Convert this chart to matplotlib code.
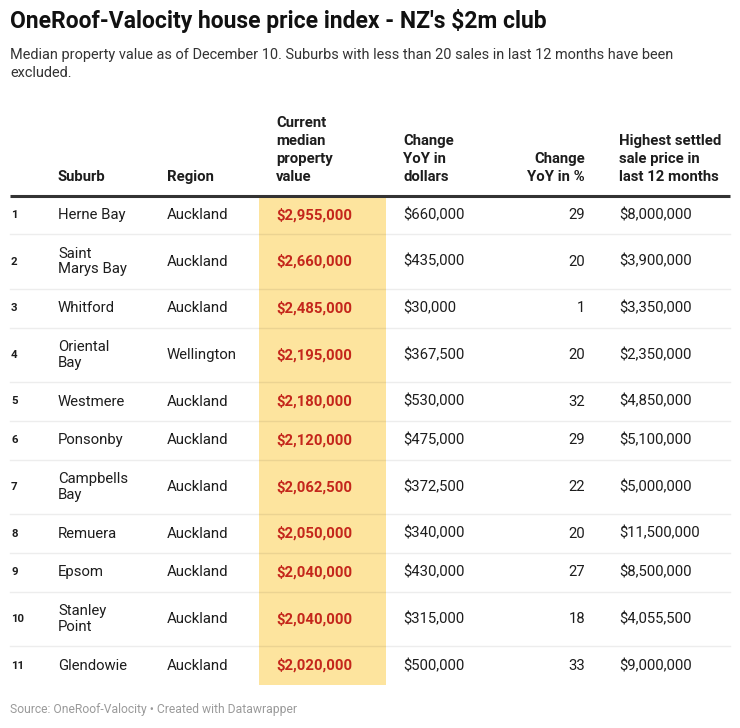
import matplotlib.pyplot as plt
from matplotlib.patches import Rectangle

plt.rcParams['font.family'] = ['Roboto', 'DejaVu Sans']

ranks = ['1', '2', '3', '4', '5', '6', '7', '8', '9', '10', '11']
suburbs = ['Herne Bay', 'Saint\nMarys Bay', 'Whitford', 'Oriental\nBay', 'Westmere', 'Ponsonby',
           'Campbells\nBay', 'Remuera', 'Epsom', 'Stanley\nPoint', 'Glendowie']
regions = ['Auckland', 'Auckland', 'Auckland', 'Wellington', 'Auckland', 'Auckland',
           'Auckland', 'Auckland', 'Auckland', 'Auckland', 'Auckland']
median_value = ['$2,955,000', '$2,660,000', '$2,485,000', '$2,195,000', '$2,180,000', '$2,120,000',
                '$2,062,500', '$2,050,000', '$2,040,000', '$2,040,000', '$2,020,000']
change_dollars = ['$660,000', '$435,000', '$30,000', '$367,500', '$530,000', '$475,000',
                  '$372,500', '$340,000', '$430,000', '$315,000', '$500,000']
change_pct = ['29', '20', '1', '20', '32', '29', '22', '20', '27', '18', '33']
highest_sale = ['$8,000,000', '$3,900,000', '$3,350,000', '$2,350,000', '$4,850,000', '$5,100,000',
                '$5,000,000', '$11,500,000', '$8,500,000', '$4,055,500', '$9,000,000']

headers = ['Suburb', 'Region', 'Current\nmedian\nproperty\nvalue', 'Change\nYoY in\ndollars',
           'Change\nYoY in %', 'Highest settled\nsale price in\nlast 12 months']

TEXT = '#1d1d1d'
RED = '#c4261b'
YELLOW = '#fde49e'
W, H = 740, 728

fig = plt.figure(figsize=(W / 100, H / 100), dpi=100)
ax = fig.add_axes([0, 0, 1, 1])
ax.set_xlim(0, W)
ax.set_ylim(H, 0)
ax.axis('off')

# title block
ax.text(10, 21, "OneRoof-Valocity house price index - NZ's $2m club", fontsize=16.5,
        fontweight='bold', color='#111111', va='center')
ax.text(10, 64, 'Median property value as of December 10. Suburbs with less than 20 sales in last 12 months have been\nexcluded.',
        fontsize=10.45, color='#333333', va='center', linespacing=1.3)

# column x positions and alignment
col_x = [58, 167, 276, 403, 585, 619]
col_ha = ['left', 'left', 'left', 'left', 'right', 'left']

# header
header_bottom = 184
for x, ha, h in zip(col_x, col_ha, headers):
    ax.text(x, header_bottom, h, fontsize=10.7, fontweight='bold', color=TEXT,
            ha=ha, va='bottom', linespacing=1.36)

# row layout
top = 195.5
single_h, double_h = 38.8, 54.5
heights = [double_h if '\n' in s else single_h for s in suburbs]
y = top
bounds = []
for h in heights:
    bounds.append((y, y + h))
    y += h
table_bottom = y

ax.add_patch(Rectangle((259, top), 127, table_bottom - top, color=YELLOW, zorder=0, lw=0))
ax.plot([10, 730], [top, top], color='#333333', lw=2.2, zorder=3, solid_capstyle='butt')

for i, (y0, y1) in enumerate(bounds):
    yc = (y0 + y1) / 2
    if i < len(bounds) - 1:
        ax.plot([10, 730], [y1, y1], color='black', alpha=0.07, lw=1, zorder=1)
    ax.text(11, yc, ranks[i], fontsize=8.2, fontweight='bold', color=TEXT, va='center')
    ax.text(col_x[0], yc, suburbs[i], fontsize=10.7, color=TEXT, va='center', linespacing=1.15)
    ax.text(col_x[1], yc, regions[i], fontsize=10.7, color=TEXT, va='center')
    ax.text(col_x[2], yc, median_value[i], fontsize=10.7, fontweight='bold', color=RED, va='center')
    ax.text(col_x[3], yc, change_dollars[i], fontsize=10.7, color=TEXT, va='center')
    ax.text(col_x[4], yc, change_pct[i], fontsize=10.7, color=TEXT, va='center', ha='right')
    ax.text(col_x[5], yc, highest_sale[i], fontsize=10.7, color=TEXT, va='center')

ax.text(10, 710, 'Source: OneRoof-Valocity \u2022 Created with Datawrapper', fontsize=8.7,
        color='#9a9a9a', va='center')

fig.savefig('out.png', dpi=100, facecolor='white')
